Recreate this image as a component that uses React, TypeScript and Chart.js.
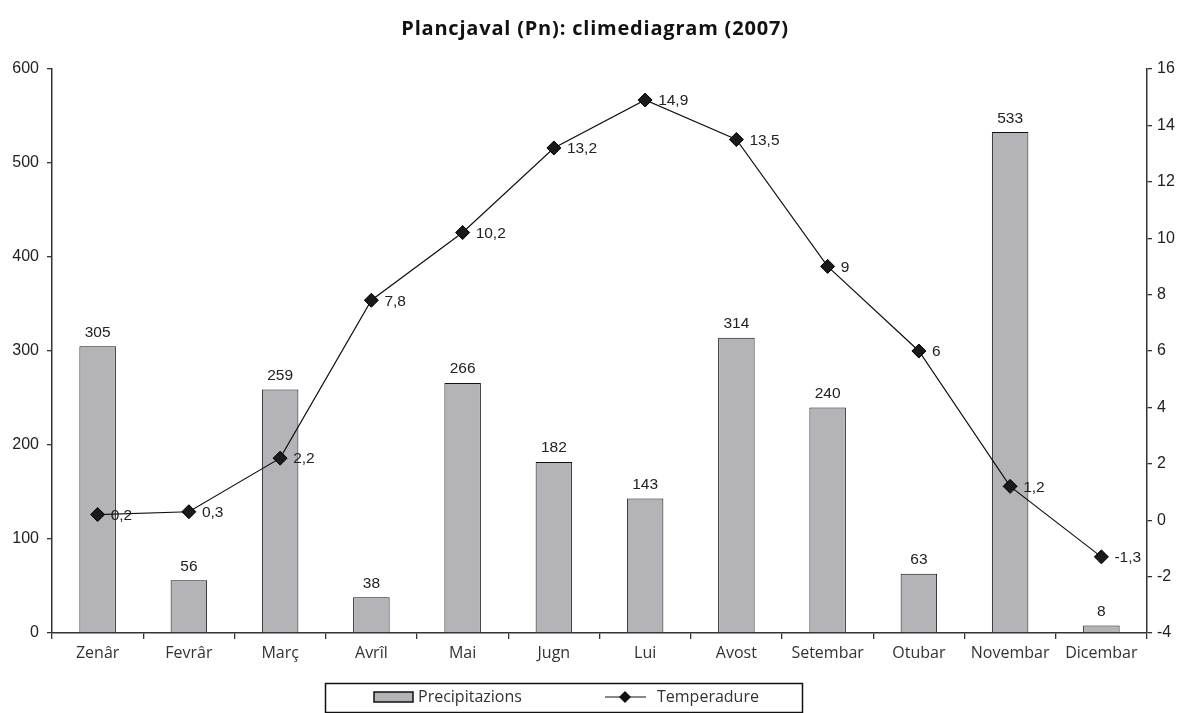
import React, { useEffect, useRef } from 'react';
import { Chart, registerables } from 'chart.js';

Chart.register(...registerables);

const chartTitle = 'Plancjaval (Pn): climediagram (2007)';
const months = ['Zenâr', 'Fevrâr', 'Març', 'Avrîl', 'Mai', 'Jugn', 'Lui', 'Avost', 'Setembar', 'Otubar', 'Novembar', 'Dicembar'];
const precipitation = [305, 56, 259, 38, 266, 182, 143, 314, 240, 63, 533, 8];
const temperature = [0.2, 0.3, 2.2, 7.8, 10.2, 13.2, 14.9, 13.5, 9, 6, 1.2, -1.3];
const precipLabel = 'Precipitazions';
const tempLabel = 'Temperadure';
const leftAxis = { min: 0, max: 600, step: 100 };
const rightAxis = { min: -4, max: 16, step: 2 };

const BAR_COLOR = '#b3b3b8';
const AXIS_COLOR = '#333333';
const NUM_FONT = '"Liberation Sans", Arial, sans-serif';
const TEXT_FONT = '"Open Sans", Lato, sans-serif';

const fmt = (v: number) => String(v).replace('.', ',');

const overlayPlugin = {
  id: 'overlay',
  afterDatasetsDraw(chart: any) {
    const ctx = chart.ctx;
    ctx.save();
    const barMeta = chart.getDatasetMeta(0);
    ctx.font = `15.5px ${NUM_FONT}`;
    ctx.fillStyle = '#222';
    ctx.textAlign = 'center';
    ctx.textBaseline = 'bottom';
    barMeta.data.forEach((el: any, i: number) => {
      ctx.fillText(fmt(chart.data.datasets[0].data[i]), el.x, el.y - 6);
    });
    const lineMeta = chart.getDatasetMeta(1);
    ctx.textAlign = 'left';
    ctx.textBaseline = 'middle';
    lineMeta.data.forEach((el: any, i: number) => {
      ctx.fillText(fmt(chart.data.datasets[1].data[i]), el.x + 13, el.y + 1);
    });
    ctx.restore();
  },
  afterDraw(chart: any) {
    const ctx = chart.ctx;
    ctx.save();
    ctx.font = `bold 20px ${TEXT_FONT}`;
    try { (ctx as any).letterSpacing = '0.8px'; } catch (e) { /* ignore */ }
    ctx.fillStyle = '#111';
    ctx.textAlign = 'center';
    ctx.textBaseline = 'middle';
    ctx.fillText(chartTitle, 595, 29);
    try { (ctx as any).letterSpacing = '0px'; } catch (e) { /* ignore */ }

    const bx = 325, by = 683, bw = 477, bh = 29;
    ctx.strokeStyle = '#111';
    ctx.lineWidth = 1.5;
    ctx.strokeRect(bx + 0.5, by + 0.5, bw, bh);
    const cy = by + 14;
    ctx.fillStyle = BAR_COLOR;
    ctx.fillRect(374, cy - 5, 39, 10);
    ctx.lineWidth = 1.5;
    ctx.strokeStyle = '#111';
    ctx.strokeRect(374, cy - 5, 39, 10);
    ctx.font = `16px ${TEXT_FONT}`;
    ctx.fillStyle = '#333';
    ctx.textAlign = 'left';
    ctx.textBaseline = 'middle';
    ctx.fillText(precipLabel, 418, cy);
    ctx.strokeStyle = '#111';
    ctx.lineWidth = 1.2;
    ctx.beginPath();
    ctx.moveTo(605, cy);
    ctx.lineTo(646, cy);
    ctx.stroke();
    ctx.fillStyle = '#111';
    ctx.beginPath();
    ctx.moveTo(625, cy - 6);
    ctx.lineTo(631, cy);
    ctx.lineTo(625, cy + 6);
    ctx.lineTo(619, cy);
    ctx.closePath();
    ctx.fill();
    ctx.fillStyle = '#333';
    ctx.fillText(tempLabel, 657, cy);
    ctx.restore();
  },
};

export default function App() {
  const canvasRef = useRef<HTMLCanvasElement | null>(null);

  useEffect(() => {
    document.body.style.margin = '0';
    const canvas = canvasRef.current;
    if (!canvas) return;
    const chart = new Chart(canvas, {
      type: 'bar',
      data: {
        labels: months,
        datasets: [
          {
            type: 'bar',
            label: precipLabel,
            data: precipitation,
            backgroundColor: BAR_COLOR,
            borderColor: '#111',
            borderWidth: 1,
            categoryPercentage: 0.8,
            barPercentage: 0.5,
            yAxisID: 'y',
            order: 1,
          },
          {
            type: 'line',
            label: tempLabel,
            data: temperature,
            borderColor: '#111',
            borderWidth: 1.2,
            backgroundColor: '#151515',
            pointStyle: 'rectRot',
            pointRadius: 7,
            pointBorderColor: '#000',
            pointBorderWidth: 1,
            pointBackgroundColor: '#1a1a1a',
            tension: 0,
            yAxisID: 'y1',
            order: 0,
          },
        ],
      } as any,
      plugins: [overlayPlugin],
      options: {
        animation: false,
        responsive: false,
        devicePixelRatio: 1,
        layout: { padding: { top: 69, bottom: 50, left: 0, right: 0 } },
        plugins: {
          legend: { display: false },
          title: { display: false },
          tooltip: { enabled: false },
        },
        scales: {
          x: {
            offset: true,
            grid: {
              display: true,
              offset: true,
              drawOnChartArea: false,
              drawTicks: true,
              tickLength: 6,
              color: AXIS_COLOR,
              lineWidth: 1.3,
            },
            border: { display: true, color: AXIS_COLOR, width: 1.5 },
            ticks: {
              color: '#333',
              font: { family: TEXT_FONT, size: 16 },
              padding: 5,
              maxRotation: 0,
              autoSkip: false,
            },
            afterFit: (s: any) => { s.height = 30; },
          },
          y: {
            position: 'left',
            min: leftAxis.min,
            max: leftAxis.max,
            grid: {
              drawOnChartArea: false,
              drawTicks: true,
              tickLength: 5,
              color: AXIS_COLOR,
              lineWidth: 1.3,
            },
            border: { display: true, color: AXIS_COLOR, width: 1.5 },
            ticks: {
              stepSize: leftAxis.step,
              color: '#222',
              font: { family: NUM_FONT, size: 16 },
              padding: 8,
            },
            afterFit: (s: any) => { s.width = 52; },
          },
          y1: {
            position: 'right',
            min: rightAxis.min,
            max: rightAxis.max,
            grid: {
              drawOnChartArea: false,
              drawTicks: true,
              tickLength: 5,
              color: AXIS_COLOR,
              lineWidth: 1.3,
            },
            border: { display: true, color: AXIS_COLOR, width: 1.5 },
            ticks: {
              stepSize: rightAxis.step,
              color: '#222',
              font: { family: NUM_FONT, size: 16 },
              padding: 5,
            },
            afterFit: (s: any) => { s.width = 32; },
          },
        },
      } as any,
    });
    return () => chart.destroy();
  }, []);

  return <canvas ref={canvasRef} width={1179} height={713} style={{ display: 'block' }} />;
}
